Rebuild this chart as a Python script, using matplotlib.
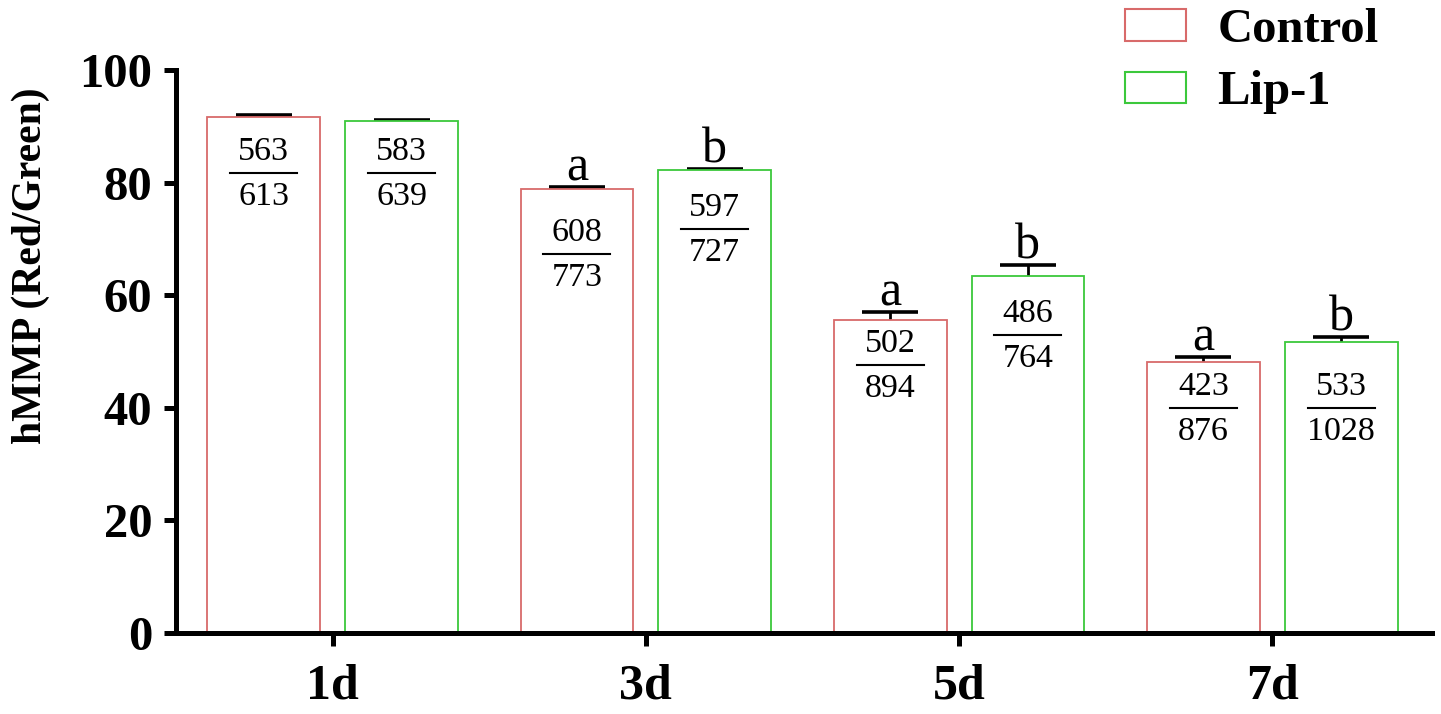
import matplotlib.pyplot as plt
from matplotlib.patches import Patch
import numpy as np

plt.rcParams['font.family'] = 'Liberation Serif'
plt.rcParams['font.weight'] = 'bold'

# dados
dias = ["1d", "3d", "5d", "7d"]
controle = [91.7, 78.9, 55.6, 48.2]
lip1 = [91.0, 82.2, 63.4, 51.7]
erro_controle = [0.3, 0.3, 1.4, 0.8]
erro_lip1 = [0.2, 0.2, 1.9, 0.8]
num_controle = ["563", "608", "502", "423"]
den_controle = ["613", "773", "894", "876"]
num_lip1 = ["583", "597", "486", "533"]
den_lip1 = ["639", "727", "764", "1028"]
letra_controle = ["", "a", "a", "a"]
letra_lip1 = ["", "b", "b", "b"]

# posição (eixo y) da barra de fração em cada barra
fracao_y_controle = [81.7, 67.3, 47.6, 40.0]
fracao_y_lip1 = [81.7, 71.8, 52.9, 40.0]

vermelho = "#d86a6a"
verde = "#3cc83c"

fig = plt.figure(figsize=(14.41, 7.14), dpi=100)
ax = fig.add_axes([176 / 1441, 1 - 633 / 714, (1432 - 176) / 1441, (633 - 70) / 714])

x = np.arange(len(dias))
desloc = 0.22
larg = 0.36

for xs, vals, errs, cor, nums, dens, letras, fy in [
    (x - desloc, controle, erro_controle, vermelho, num_controle, den_controle, letra_controle, fracao_y_controle),
    (x + desloc, lip1, erro_lip1, verde, num_lip1, den_lip1, letra_lip1, fracao_y_lip1),
]:
    # barra de erro simétrica atrás da barra branca: só a metade de cima aparece
    ax.errorbar(xs, vals, yerr=errs, fmt="none", ecolor="black",
                elinewidth=2, capsize=20, capthick=2.6, zorder=1)
    ax.bar(xs, vals, larg, facecolor="white", edgecolor=cor, linewidth=1.3, zorder=2)
    for xi, v, e, n, d, l, yy in zip(xs, vals, errs, nums, dens, letras, fy):
        ax.plot([xi - 0.107, xi + 0.107], [yy, yy], color="black", lw=1.5, zorder=4)
        ax.text(xi, yy + 3.8, n, ha="center", va="center", fontsize=24.5, fontweight="normal")
        ax.text(xi, yy - 4.2, d, ha="center", va="center", fontsize=24.5, fontweight="normal")
        if l:
            ax.text(xi, v + e + 1.2, l, ha="center", va="baseline", fontsize=36, fontweight="normal")

ax.set_xlim(-0.5, 3.51)
ax.set_ylim(0, 100)
ax.set_yticks([0, 20, 40, 60, 80, 100])
ax.set_xticks(x)
ax.set_xticklabels(dias)
ax.spines["top"].set_visible(False)
ax.spines["right"].set_visible(False)
ax.spines["left"].set_linewidth(3.6)
ax.spines["bottom"].set_linewidth(3.6)
ax.tick_params(axis="y", width=3.6, length=9, labelsize=35, pad=8)
ax.tick_params(axis="x", width=3.6, length=9, labelsize=36, pad=13)

ax.set_ylabel("hMMP (Red/Green)", fontsize=30, fontweight="bold")
ax.yaxis.set_label_coords(-0.1, 0.652)

handles = [Patch(facecolor="white", edgecolor=vermelho, linewidth=1.5, label="Control"),
           Patch(facecolor="white", edgecolor=verde, linewidth=1.5, label="Lip-1")]
fig.legend(handles=handles, loc="upper left", bbox_to_anchor=(1125 / 1441, 1 - 8 / 714),
           frameon=False, prop={"size": 35, "weight": "bold"}, handlelength=1.25,
           handleheight=0.62, handletextpad=0.65, labelspacing=0.38, borderpad=0, borderaxespad=0)

fig.savefig("out.png", dpi=100)
